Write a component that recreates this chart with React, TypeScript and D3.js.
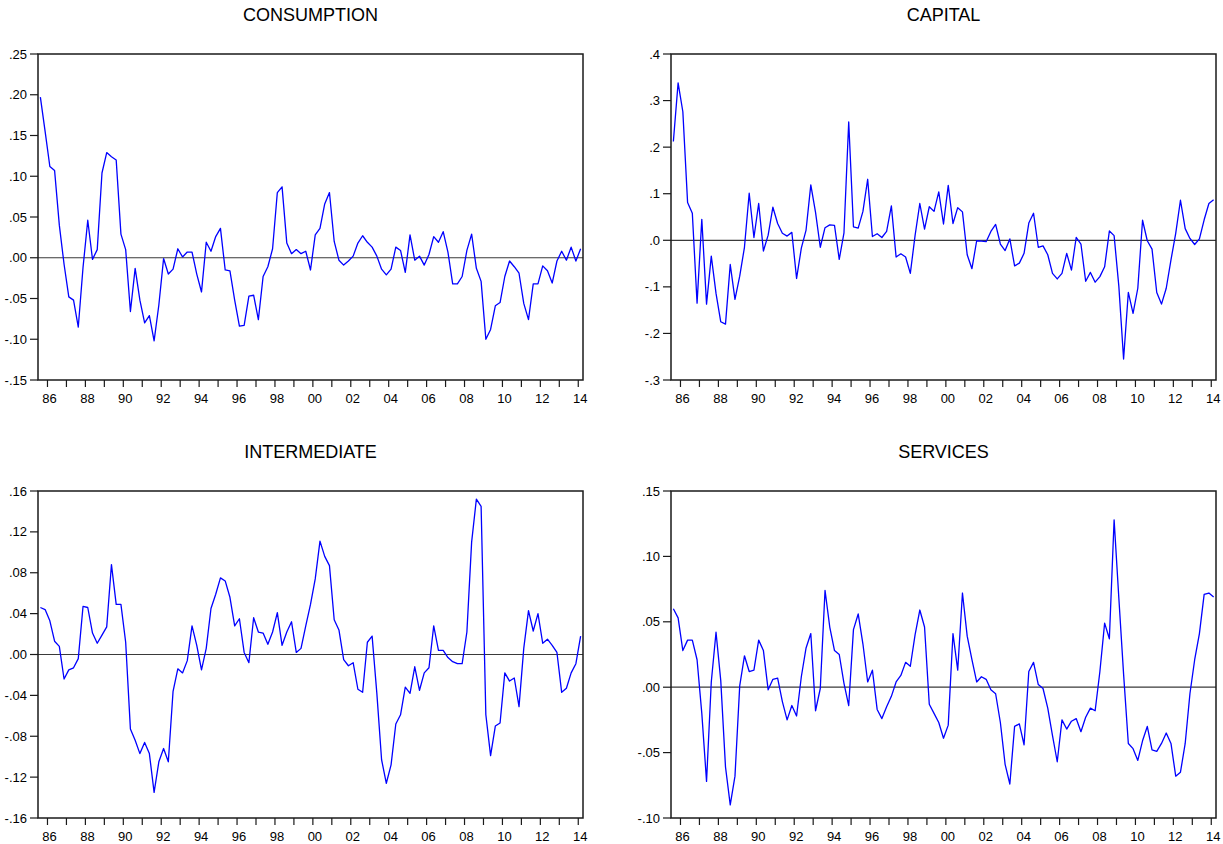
import React from 'react';
import * as d3 from 'd3';

// quarterly observations, 1985Q3 .. 2014Q1 (115 quarters)
const firstQuarter = 1985.5;
const nObs = 115;
const quarters = d3.range(nObs).map(i => firstQuarter + i * 0.25);
const years = d3.range(1986, 2015);

const consumption = [
  0.197, 0.155, 0.112, 0.107, 0.040, -0.008, -0.048, -0.052, -0.085, -0.012,
  0.046, -0.002, 0.010, 0.104, 0.129, 0.124, 0.120, 0.029, 0.010, -0.066,
  -0.013, -0.052, -0.080, -0.071, -0.102, -0.058, -0.001, -0.020, -0.014, 0.011,
  0.001, 0.007, 0.007, -0.020, -0.042, 0.019, 0.008, 0.026, 0.036, -0.015,
  -0.016, -0.052, -0.084, -0.083, -0.047, -0.046, -0.076, -0.023, -0.011, 0.011,
  0.080, 0.087, 0.018, 0.005, 0.010, 0.005, 0.008, -0.015, 0.028, 0.036,
  0.066, 0.080, 0.020, -0.003, -0.009, -0.004, 0.002, 0.018, 0.027, 0.019,
  0.013, 0.002, -0.014, -0.021, -0.014, 0.013, 0.009, -0.018, 0.028, -0.003,
  0.002, -0.009, 0.004, 0.026, 0.019, 0.032, 0.007, -0.032, -0.032, -0.023,
  0.009, 0.029, -0.013, -0.029, -0.100, -0.088, -0.059, -0.055, -0.023, -0.004,
  -0.011, -0.019, -0.056, -0.076, -0.032, -0.032, -0.010, -0.016, -0.031, -0.004,
  0.008, -0.003, 0.013, -0.004, 0.011
];

const capital = [
  0.212, 0.338, 0.276, 0.081, 0.058, -0.135, 0.045, -0.137, -0.034, -0.114,
  -0.175, -0.180, -0.052, -0.127, -0.077, -0.015, 0.101, 0.006, 0.079, -0.023,
  0.011, 0.071, 0.036, 0.015, 0.009, 0.017, -0.082, -0.017, 0.022, 0.119,
  0.060, -0.015, 0.027, 0.033, 0.032, -0.041, 0.016, 0.254, 0.029, 0.026,
  0.062, 0.131, 0.008, 0.014, 0.006, 0.019, 0.074, -0.036, -0.029, -0.036,
  -0.071, 0.010, 0.079, 0.024, 0.072, 0.062, 0.104, 0.035, 0.118, 0.036,
  0.070, 0.061, -0.031, -0.061, -0.001, -0.002, -0.003, 0.019, 0.034, -0.008,
  -0.022, 0.003, -0.055, -0.049, -0.028, 0.037, 0.058, -0.015, -0.012, -0.031,
  -0.071, -0.083, -0.071, -0.028, -0.064, 0.006, -0.008, -0.088, -0.069, -0.090,
  -0.078, -0.057, 0.020, 0.010, -0.099, -0.255, -0.112, -0.157, -0.103, 0.043,
  -0.001, -0.019, -0.112, -0.137, -0.103, -0.042, 0.015, 0.086, 0.025, 0.004,
  -0.009, 0.003, 0.044, 0.079, 0.087
];

const intermediate = [
  0.046, 0.044, 0.033, 0.013, 0.008, -0.024, -0.015, -0.013, -0.004, 0.047,
  0.046, 0.021, 0.011, 0.019, 0.027, 0.088, 0.049, 0.049, 0.012, -0.073,
  -0.084, -0.097, -0.086, -0.097, -0.135, -0.105, -0.092, -0.105, -0.036, -0.014,
  -0.018, -0.006, 0.028, 0.009, -0.015, 0.006, 0.045, 0.059, 0.075, 0.072,
  0.056, 0.028, 0.035, 0.002, -0.008, 0.036, 0.022, 0.021, 0.010, 0.022,
  0.041, 0.009, 0.022, 0.032, 0.002, 0.006, 0.028, 0.049, 0.074, 0.111,
  0.096, 0.087, 0.034, 0.024, -0.005, -0.011, -0.008, -0.034, -0.037, 0.012,
  0.018, -0.038, -0.103, -0.126, -0.108, -0.068, -0.059, -0.032, -0.038, -0.012,
  -0.035, -0.018, -0.013, 0.028, 0.004, 0.004, -0.003, -0.007, -0.009, -0.009,
  0.022, 0.110, 0.152, 0.145, -0.059, -0.099, -0.070, -0.067, -0.018, -0.026,
  -0.023, -0.051, 0.006, 0.043, 0.023, 0.040, 0.011, 0.015, 0.009, 0.002,
  -0.037, -0.033, -0.018, -0.009, 0.018
];

const services = [
  0.060, 0.053, 0.028, 0.036, 0.036, 0.021, -0.020, -0.072, 0.004, 0.042,
  0.005, -0.061, -0.090, -0.068, 0.001, 0.024, 0.012, 0.013, 0.036, 0.028,
  -0.002, 0.006, 0.007, -0.011, -0.025, -0.014, -0.022, 0.008, 0.030, 0.041,
  -0.018, -0.001, 0.074, 0.046, 0.028, 0.025, 0.003, -0.014, 0.044, 0.056,
  0.033, 0.004, 0.013, -0.017, -0.024, -0.015, -0.007, 0.004, 0.009, 0.019,
  0.016, 0.040, 0.059, 0.046, -0.013, -0.020, -0.027, -0.039, -0.029, 0.041,
  0.013, 0.072, 0.039, 0.021, 0.004, 0.008, 0.006, -0.002, -0.005, -0.027,
  -0.059, -0.074, -0.030, -0.028, -0.044, 0.012, 0.019, 0.002, -0.001, -0.016,
  -0.037, -0.057, -0.025, -0.032, -0.026, -0.024, -0.034, -0.023, -0.016, -0.018,
  0.012, 0.049, 0.037, 0.128, 0.068, 0.010, -0.043, -0.047, -0.056, -0.041,
  -0.030, -0.048, -0.049, -0.043, -0.035, -0.043, -0.068, -0.065, -0.043, -0.005,
  0.021, 0.041, 0.071, 0.072, 0.069
];

const consumptionTicks = [-0.15, -0.10, -0.05, 0, 0.05, 0.10, 0.15, 0.20, 0.25];
const capitalTicks = [-0.3, -0.2, -0.1, 0, 0.1, 0.2, 0.3, 0.4];
const intermediateTicks = [-0.16, -0.12, -0.08, -0.04, 0, 0.04, 0.08, 0.12, 0.16];
const servicesTicks = [-0.10, -0.05, 0, 0.05, 0.10, 0.15];

const FONT = '"Liberation Sans", Arial, sans-serif';

// eviews style: drop the leading zero (.25, -.10)
const fmt = (digits: number) => (v: number) =>
  d3.format(`.${digits}f`)(v).replace('0.', '.').replace('−', '-');

interface PanelProps {
  title: string;
  values: number[];
  ticks: number[];
  digits: number;
  left: number;
  right: number;
  top: number;
  bottom: number;
}

const Panel: React.FC<PanelProps> = ({ title, values, ticks, digits, left, right, top, bottom }) => {
  const x = d3.scaleLinear().domain([1985.5, 2014.25]).range([left, right]);
  const y = d3.scaleLinear().domain([ticks[0], ticks[ticks.length - 1]]).range([bottom, top]);

  const line = d3.line<number>()
    .x((_, i) => x(quarters[i] + 0.125))
    .y(d => y(d));

  const f = fmt(digits);

  return (
    <g>
      <text x={(left + right) / 2} y={top - 33} textAnchor="middle"
        fontFamily={FONT} fontSize={18} fill="#000">{title}</text>

      {/* zero line */}
      <line x1={left} x2={right} y1={y(0)} y2={y(0)} stroke="#3a3a3a" strokeWidth={1.2} />

      <path d={line(values) || ''} fill="none" stroke="#0000ff" strokeWidth={1.3}
        strokeLinejoin="round" />

      <rect x={left} y={top} width={right - left} height={bottom - top}
        fill="none" stroke="#1a1a1a" strokeWidth={1.5} />

      {/* y axis */}
      {ticks.map(t => (
        <g key={t}>
          <line x1={left - 8} x2={left} y1={y(t)} y2={y(t)} stroke="#1a1a1a" strokeWidth={1.2} />
          <text x={left - 11} y={y(t) + 4.5} textAnchor="end" fontFamily={FONT}
            fontSize={13} fill="#000">{f(t)}</text>
        </g>
      ))}

      {/* x axis */}
      {years.map(yr => (
        <g key={yr}>
          <line x1={x(yr)} x2={x(yr)} y1={bottom} y2={bottom + 7} stroke="#1a1a1a" strokeWidth={1.2} />
          {yr % 2 === 0 && (
            <text x={x(yr) + 2} y={bottom + 23} textAnchor="middle" fontFamily={FONT}
              fontSize={13} fill="#000">{String(yr % 100).padStart(2, '0')}</text>
          )}
        </g>
      ))}
    </g>
  );
};

export default function App() {
  return (
    <svg width={1223} height={844} style={{ position: 'absolute', left: 0, top: 0, background: '#fff' }}>
      <rect width={1223} height={844} fill="#fff" />
      <Panel title="CONSUMPTION" values={consumption} ticks={consumptionTicks} digits={2}
        left={38} right={583} top={54} bottom={380} />
      <Panel title="CAPITAL" values={capital} ticks={capitalTicks} digits={1}
        left={671} right={1216} top={54} bottom={380} />
      <Panel title="INTERMEDIATE" values={intermediate} ticks={intermediateTicks} digits={2}
        left={38} right={583} top={491} bottom={818} />
      <Panel title="SERVICES" values={services} ticks={servicesTicks} digits={2}
        left={671} right={1216} top={491} bottom={818} />
    </svg>
  );
}
